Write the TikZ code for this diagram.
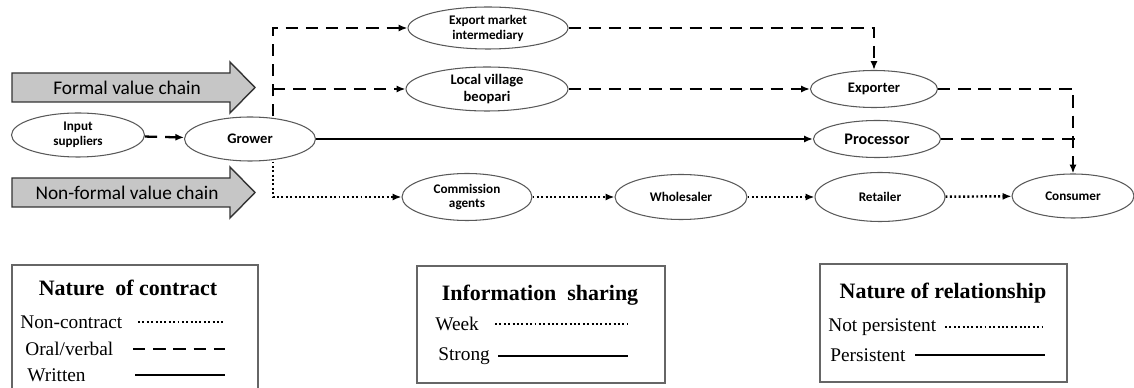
\documentclass[tikz,border=0pt]{standalone}
\usepackage{fontspec}
\setmainfont{Liberation Serif}
\newfontfamily\calfont{Carlito}
\usepackage{tikz}
\usetikzlibrary{arrows.meta,shapes.geometric}

\begin{document}
\begin{tikzpicture}[x=0.02cm, y=-0.02cm,
  actor/.style={draw=gray!70!black, line width=0.6pt, ellipse, inner sep=0pt, align=center,
    font=\calfont\bfseries\fontsize{7.5}{8.5}\selectfont},
  bigger/.style={font=\calfont\bfseries\fontsize{8.3}{9.5}\selectfont},
  chainarrow/.style={draw=gray!40!black, line width=0.8pt, fill=gray!45},
  chainlabel/.style={font=\calfont\fontsize{11}{12}\selectfont},
  link/.style={-{Latex[length=5pt,width=4pt]}},
  oral/.style={line width=1.3pt, dash pattern=on 7pt off 4.5pt},
  noncontract/.style={line width=1.4pt, dash pattern=on 1.1pt off 1.4pt},
  written/.style={line width=1.2pt},
  legendbox/.style={draw=gray!80!black, line width=0.6pt},
  legendtitle/.style={font=\bfseries\fontsize{12.5}{14}\selectfont},
  legenditem/.style={anchor=west, inner sep=0pt, font=\fontsize{11}{12}\selectfont}]

  \useasboundingbox (0,0) rectangle (1134,388);

  % Value chain arrows
  \draw[chainarrow] (12,73) -- (230,73) -- (230,62) -- (255,87.5) -- (230,113) -- (230,102) -- (12,102) -- cycle;
  \node[chainlabel] (formal) at (127,87.5) {Formal value chain};
  \draw[chainarrow] (12,178) -- (230,178) -- (230,167) -- (255,192.5) -- (230,218) -- (230,207) -- (12,207) -- cycle;
  \node[chainlabel] (nonformal) at (127,192.5) {Non-formal value chain};

  % Actors
  \node[actor, minimum width=2.66cm, minimum height=0.88cm] (inp) at (78,135) {Input\\suppliers};
  \node[actor, bigger, minimum width=2.62cm, minimum height=0.88cm] (grow) at (250,139) {Grower};
  \node[actor, minimum width=3.2cm, minimum height=0.84cm] (expint) at (488,28) {Export market\\intermediary};
  \node[actor, bigger, minimum width=3.24cm, minimum height=0.88cm] (beopari) at (487,89) {Local village\\beopari};
  \node[actor, bigger, minimum width=2.54cm, minimum height=0.74cm] (expo) at (874,89) {Exporter};
  \node[actor, font=\calfont\bfseries\fontsize{9.2}{10}\selectfont, minimum width=2.54cm, minimum height=0.74cm] (proc) at (877,139) {Processor};
  \node[actor, minimum width=2.6cm, minimum height=0.94cm] (comm) at (467,197) {Commission\\agents};
  \node[actor, minimum width=2.64cm, minimum height=0.9cm] (whole) at (681,197) {Wholesaler};
  \node[actor, minimum width=2.6cm, minimum height=0.98cm] (retail) at (880,197) {Retailer};
  \node[actor, minimum width=2.44cm, minimum height=0.88cm] (cons) at (1073,196) {Consumer};

  \coordinate (split) at (273,89);
  \coordinate (join) at (1075,139);

  % Oral/verbal links
  \draw[link, oral] (inp) -- (grow);
  \draw[link, oral] (grow.north -| split) |- (expint);
  \draw[link, oral] (split) -- (beopari);
  \draw[link, oral] (expint) -| (expo);
  \draw[link, oral] (beopari) -- (expo);
  \draw[link, oral] (expo) -| (cons);
  \draw[oral] (proc) -- (join);

  % Written link
  \draw[link, written] (grow) -- (proc);

  % Non-contract links
  \draw[link, noncontract] (grow.south -| split) |- (comm);
  \draw[link, noncontract] (comm) -- (whole);
  \draw[link, noncontract] (whole) -- (retail);
  \draw[link, noncontract] (retail) -- (cons);

  % Legend: nature of contract
  \draw[legendbox] (12,392) -- (12,265) -- (258,265) -- (258,392);
  \node[legendtitle] (ctitle) at (128,288) {Nature\ \ of contract};
  \node[legenditem] (nonc) at (20,322) {Non-contract};
  \node[legenditem] (oralv) at (25,349) {Oral/verbal};
  \node[legenditem] (writ) at (27,375) {Written};
  \draw[noncontract] (138,322) -- (223,322);
  \draw[oral] (133,349) -- (225,349);
  \draw[written] (135,375) -- (225,375);

  % Legend: information sharing
  \draw[legendbox] (417,266) rectangle (665,383);
  \node[legendtitle] (ititle) at (540,295) {Information\ \ sharing};
  \node[legenditem] (week) at (435,324) {Week};
  \node[legenditem] (strong) at (438,356) {Strong};
  \draw[noncontract] (495,324) -- (627,324);
  \draw[written] (498,356) -- (628,356);

  % Legend: nature of relationship
  \draw[legendbox] (820,264) rectangle (1067,382);
  \node[legendtitle] (rtitle) at (943,293) {Nature\ of relationship};
  \node[legenditem] (notp) at (828,327) {Not persistent};
  \node[legenditem] (pers) at (830,355) {Persistent};
  \draw[noncontract] (945,327) -- (1043,327);
  \draw[written] (915,355) -- (1045,355);
\end{tikzpicture}
\end{document}
